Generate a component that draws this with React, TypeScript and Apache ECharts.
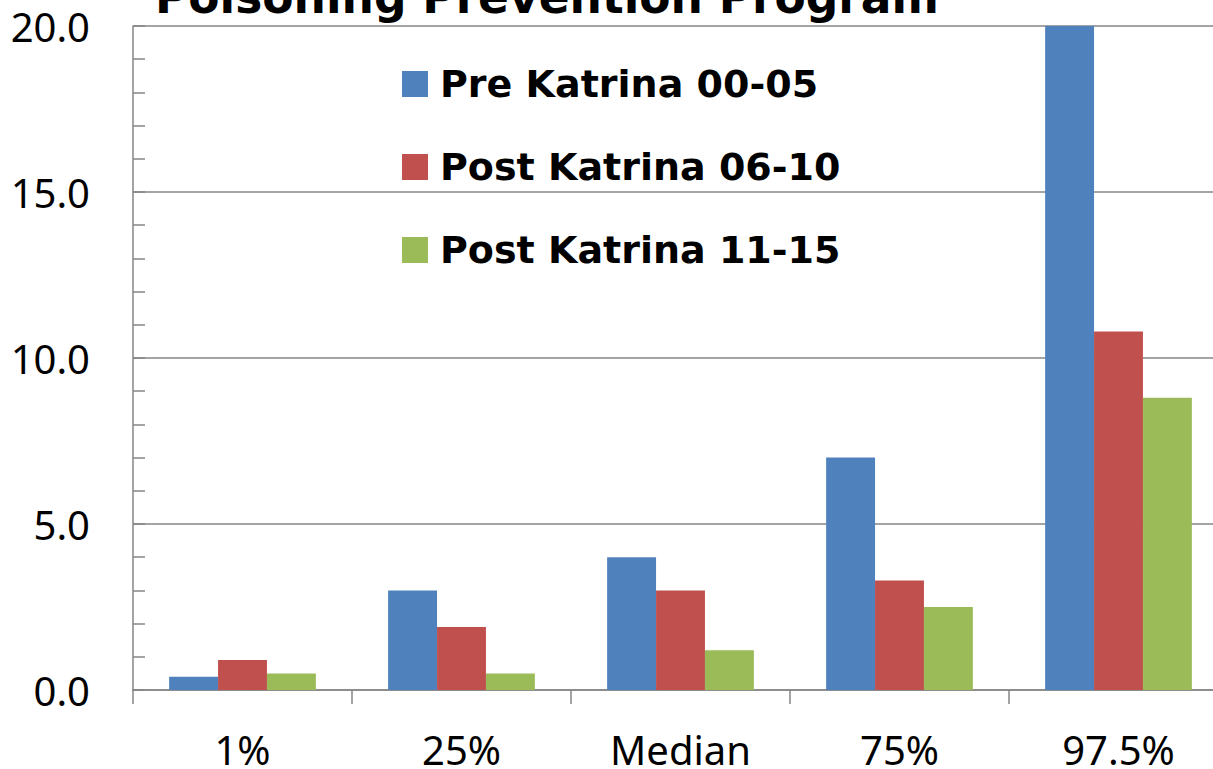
import React, { useEffect, useRef } from "react";
import * as echarts from "echarts";

const categories = ["1%", "25%", "Median", "75%", "97.5%"];
const preKatrina = [0.4, 3.0, 4.0, 7.0, 20.0];
const post0610 = [0.9, 1.9, 3.0, 3.3, 10.8];
const post1115 = [0.5, 0.5, 1.2, 2.5, 8.8];
const seriesNames = ["Pre Katrina 00-05", "Post Katrina 06-10", "Post Katrina 11-15"];
const colors = ["#4F81BD", "#C0504D", "#9BBB59"];
const titleText = "Poisoning Prevention Program";

export default function App() {
  const ref = useRef<HTMLDivElement>(null);
  useEffect(() => {
    if (!ref.current) return;
    const chart = echarts.init(ref.current, undefined, { renderer: "svg" });
    const data = [preKatrina, post0610, post1115];
    chart.setOption({
      animation: false,
      backgroundColor: "#ffffff",
      title: {
        text: titleText,
        left: 155,
        top: -25,
        padding: 0,
        textStyle: {
          fontFamily: "DejaVu Sans",
          fontWeight: "bold",
          fontSize: 45.5,
          color: "#000000",
          lineHeight: 45,
        },
      },
      legend: {
        orient: "vertical",
        left: 402,
        top: 65,
        itemWidth: 26,
        itemHeight: 26,
        itemGap: 45,
        icon: "rect",
        padding: 0,
        data: seriesNames,
        textStyle: {
          fontFamily: "DejaVu Sans",
          fontWeight: "bold",
          fontSize: 38,
          lineHeight: 38,
          color: "#000000",
          padding: [0, 0, 0, 7],
        },
      },
      grid: {
        left: 133,
        top: 26,
        right: 12,
        bottom: 79,
        containLabel: false,
        outerBoundsMode: "none",
      },
      xAxis: {
        type: "category",
        data: categories,
        boundaryGap: true,
        axisLine: { show: true, lineStyle: { color: "#868686", width: 1.5 } },
        axisTick: { show: true, alignWithLabel: false, length: 14, lineStyle: { color: "#868686", width: 1.5 } },
        axisLabel: {
          margin: 44,
          fontFamily: "Noto Sans",
          fontSize: 40,
          lineHeight: 30,
          color: "#000000",
        },
      },
      yAxis: {
        type: "value",
        min: 0,
        max: 20,
        interval: 5,
        axisLine: { show: true, lineStyle: { color: "#868686", width: 1.5 } },
        axisTick: { show: true, inside: true, length: 12, lineStyle: { color: "#868686", width: 1.5 } },
        minorTick: { show: true, splitNumber: 5, length: 12, lineStyle: { color: "#868686", width: 1.5 } },
        splitLine: { show: true, lineStyle: { color: "#868686", width: 1.5 } },
        axisLabel: {
          margin: 43,
          fontFamily: "Noto Sans",
          fontSize: 40,
          color: "#000000",
          formatter: (v: number) => v.toFixed(1),
        },
      },
      series: seriesNames.map((name, i) => ({
        name,
        type: "bar",
        data: data[i],
        barGap: "0%",
        barCategoryGap: "33%",
        itemStyle: { color: colors[i] },
      })),
    });
    return () => chart.dispose();
  }, []);
  return (
    <div style={{ position: "absolute", left: 0, top: 0, width: 1213, height: 769, overflow: "hidden", background: "#fff" }}>
      <div ref={ref} style={{ width: 1240, height: 769 }} />
    </div>
  );
}
